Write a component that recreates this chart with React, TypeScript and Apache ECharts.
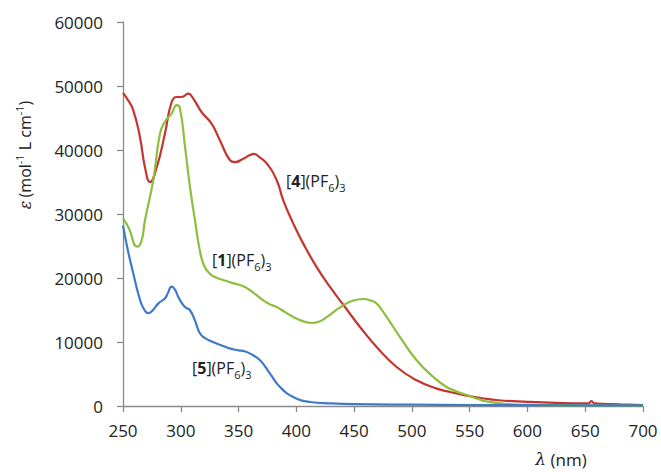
import React, { useEffect, useRef } from "react";
import * as echarts from "echarts";

// Absorption spectra: wavelength (nm) against molar absorptivity
const wl4 = [250, 254, 258.9, 264.7, 269, 273.4, 279.2, 286.3, 292.1, 296.5, 300.8, 306.5, 310.8, 318.1, 326.7, 333.9, 342.6, 346.9, 354.1, 360, 363, 368, 374.4, 383, 388.7, 397.4, 406, 417.6, 429.1, 442.1, 455.1, 469.5, 486.8, 504.1, 521.5, 533, 545, 560, 575, 600, 625, 650, 653, 655.5, 658, 680, 700];
const eps4 = [48900, 47900, 46200, 42000, 37300, 35000, 37300, 42560, 47500, 48280, 48280, 48800, 48030, 45900, 44100, 41500, 38400, 38100, 38650, 39200, 39400, 38900, 37900, 35270, 32140, 28500, 25370, 21700, 18600, 15470, 12340, 9220, 6090, 4020, 2720, 2190, 1700, 1250, 900, 650, 480, 400, 420, 750, 400, 250, 150];

const wl1 = [250, 255, 262.3, 266, 269, 276.2, 282, 286.3, 292.1, 296.5, 299.3, 303.7, 308, 312.3, 316.4, 320, 325, 330, 336.5, 345, 353.7, 359.9, 365, 371.4, 377, 383, 390, 397.4, 405, 413.3, 420, 426.3, 433, 440.6, 448, 457.9, 464, 469.5, 478.2, 489.7, 504.1, 518.6, 530, 540, 548, 557.7, 565, 580, 600, 650, 700];
const eps1 = [29300, 27800, 24900, 25800, 29000, 35300, 42560, 44400, 45700, 47000, 46500, 40500, 34200, 29000, 24400, 22000, 20700, 20100, 19700, 19200, 18750, 18080, 17400, 16500, 15900, 15470, 14700, 13900, 13300, 12970, 13200, 13900, 14800, 15730, 16400, 16720, 16500, 16000, 13900, 10780, 7140, 4530, 2970, 2200, 1700, 1050, 700, 350, 180, 80, 50];

const wl5 = [250, 254, 258.9, 264.7, 268, 271.8, 276, 280.4, 286.2, 289, 292, 295, 297.7, 302, 305, 307.8, 312, 316.4, 321, 327.8, 335, 342.2, 350, 355, 360, 368.6, 377.2, 385.9, 397.4, 411.8, 430, 450, 500, 550, 600, 650, 700];
const eps5 = [28200, 24500, 20700, 16600, 15200, 14500, 15000, 16000, 16800, 17700, 18650, 18200, 17100, 15800, 15300, 15000, 13500, 11400, 10600, 10000, 9500, 9000, 8700, 8550, 8190, 7140, 5060, 2970, 1410, 630, 400, 280, 200, 160, 130, 110, 90];

const xTicks = { min: 250, max: 700, interval: 50 };
const yTicks = { min: 0, max: 60000, interval: 10000 };

const FONT = "'Open Sans', 'Noto Sans', sans-serif";
const TEXT = "#222222";
const AXIS = "#8a8a8a";
const RED = "#C2362F";
const GREEN = "#8DBE3D";
const BLUE = "#3D7BC8";

const pairs = (xs: number[], ys: number[]) => xs.map((x, i) => [x, ys[i]]);

const compoundRich = {
  n: { fontSize: 16, fontFamily: FONT, fill: TEXT, lineHeight: 20, verticalAlign: "top" },
  b: { fontSize: 16, fontFamily: FONT, fill: TEXT, lineHeight: 20, fontWeight: "bold", verticalAlign: "top" },
  s: { fontSize: 11, fontFamily: FONT, fill: TEXT, lineHeight: 14, padding: [9, 0, 0, 0], verticalAlign: "top" },
};

const compoundLabel = (num: string, x: number, y: number) => ({
  type: "text",
  x,
  y: y - 10,
  style: {
    text: `{n|[}{b|${num}}{n|](PF}{s|6}{n|)}{s|3}`,
    rich: compoundRich,
    align: "left",
    verticalAlign: "top",
  },
});

export default function App() {
  const ref = useRef<HTMLDivElement>(null);

  useEffect(() => {
    if (!ref.current) return;
    const chart = echarts.init(ref.current, undefined, { renderer: "svg" });
    const lineSeries = (name: string, color: string, data: number[][]) => ({
      name,
      type: "line",
      data,
      smooth: 0.5,
      showSymbol: false,
      symbol: "none",
      lineStyle: { color, width: 2.2 },
      itemStyle: { color },
    });

    chart.setOption({
      animation: false,
      backgroundColor: "#ffffff",
      grid: { left: 123, right: 18, top: 22, bottom: 66 },
      xAxis: {
        type: "value",
        ...xTicks,
        axisLine: { show: true, lineStyle: { color: AXIS, width: 1.3 } },
        axisTick: { show: true, inside: false, length: 6, lineStyle: { color: AXIS, width: 1.3 } },
        splitLine: { show: false },
        axisLabel: { color: TEXT, fontSize: 17, fontFamily: FONT, margin: 16, formatter: (v: number) => String(v) },
      },
      yAxis: {
        type: "value",
        ...yTicks,
        axisLine: { show: true, lineStyle: { color: AXIS, width: 1.3 } },
        axisTick: { show: true, inside: false, length: 6, lineStyle: { color: AXIS, width: 1.3 } },
        splitLine: { show: false },
        axisLabel: { color: TEXT, fontSize: 17, fontFamily: FONT, margin: 20, formatter: (v: number) => String(v) },
      },
      series: [
        lineSeries("[4](PF6)3", RED, pairs(wl4, eps4)),
        lineSeries("[1](PF6)3", GREEN, pairs(wl1, eps1)),
        lineSeries("[5](PF6)3", BLUE, pairs(wl5, eps5)),
      ],
      graphic: [
        compoundLabel("4", 286, 183),
        compoundLabel("1", 212, 262),
        compoundLabel("5", 192, 370),
        {
          type: "text",
          x: 22,
          y: 155,
          rotation: Math.PI / 2,
          style: {
            text: "{e|ε} {n|(mol}{p|-1}{n| L cm}{p|-1}{n|)}",
            align: "center",
            verticalAlign: "middle",
            rich: {
              e: { fontSize: 16, fontFamily: "'DejaVu Serif', serif", fontStyle: "italic", fill: TEXT, lineHeight: 20, padding: [5, 0, 0, 0], verticalAlign: "top" },
              n: { fontSize: 16, fontFamily: FONT, fill: TEXT, lineHeight: 20, padding: [5, 0, 0, 0], verticalAlign: "top" },
              p: { fontSize: 11, fontFamily: FONT, fill: TEXT, lineHeight: 12, padding: [2, 0, 0, 0], verticalAlign: "top" },
            },
          },
        },
        {
          type: "text",
          x: 561,
          y: 459,
          style: {
            text: "{e|λ}{n| (nm)}",
            align: "center",
            verticalAlign: "middle",
            rich: {
              e: { fontSize: 17, fontFamily: "'DejaVu Serif', serif", fontStyle: "italic", fill: TEXT, lineHeight: 20 },
              n: { fontSize: 17, fontFamily: FONT, fill: TEXT, lineHeight: 20 },
            },
          },
        },
      ],
    });
    return () => chart.dispose();
  }, []);

  return (
    <div
      ref={ref}
      style={{ position: "fixed", left: 0, top: 0, width: 661, height: 472, background: "#fff" }}
    />
  );
}
